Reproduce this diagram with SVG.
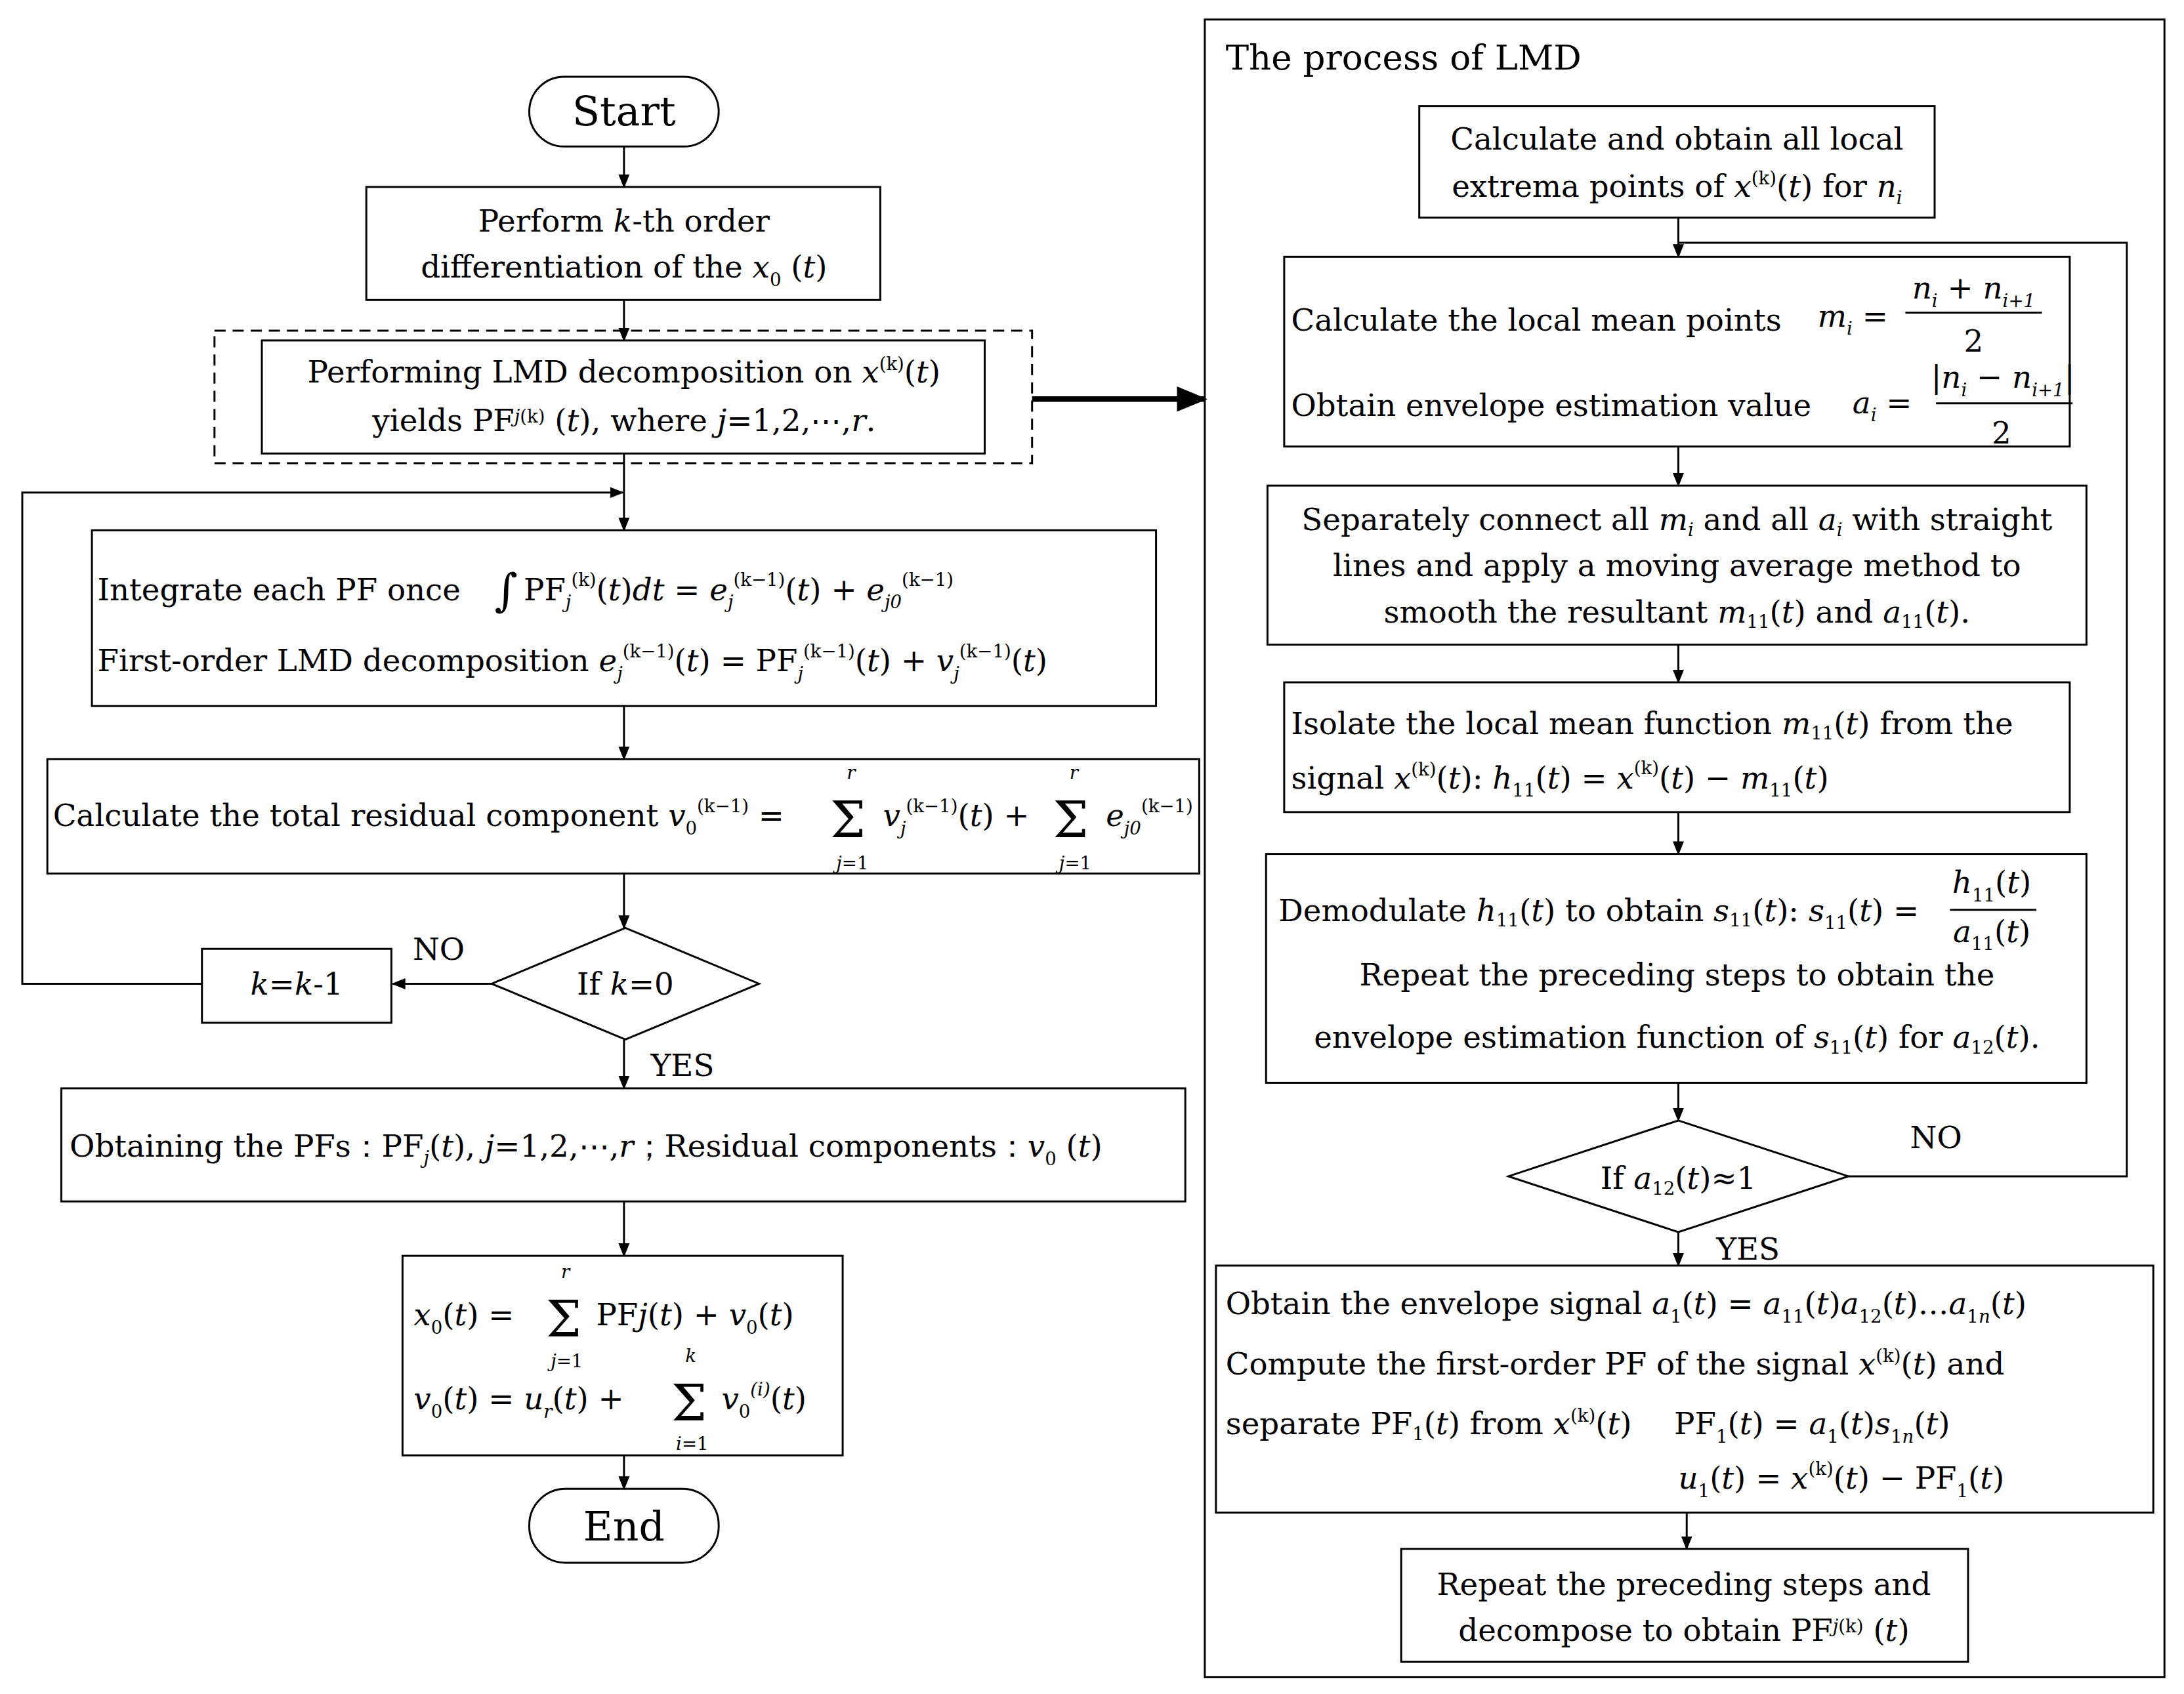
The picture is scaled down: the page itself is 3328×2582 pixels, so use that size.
<svg xmlns="http://www.w3.org/2000/svg" width="3328" height="2582" viewBox="0 0 3328 2582">
<defs>
<marker id="ah" markerWidth="10" markerHeight="10" refX="9" refY="5" orient="auto" markerUnits="userSpaceOnUse"><path d="M0,1 L10,5 L0,9 z" fill="#000"/></marker>
<marker id="ahb" markerWidth="22" markerHeight="18" refX="20" refY="9" orient="auto" markerUnits="userSpaceOnUse"><path d="M0,0 L22,9 L0,18 z" fill="#000"/></marker>
<style>
text{font-family:"DejaVu Serif","Liberation Serif",serif;font-size:22px;fill:#000}
.c{text-anchor:middle}
.i{font-style:italic}
.s{font-size:13px}
.sg{font-size:36px}
.b{fill:#fff;stroke:#000;stroke-width:1.4}
.l{fill:none;stroke:#000;stroke-width:1.4}
</style>
</defs>
<rect width="3328" height="2582" fill="#fff"/>
<g transform="scale(2.1224,2.1268)">
<g id="connectors">
<path class="l" d="M448,105 V134" marker-end="url(#ah)"/>
<path class="l" d="M448,215 V244" marker-end="url(#ah)"/>
<path class="l" d="M448,325 V380" marker-end="url(#ah)"/>
<path class="l" d="M145,705 H16 V353 H447" marker-end="url(#ah)"/>
<path class="l" d="M448,506 V544" marker-end="url(#ah)"/>
<path class="l" d="M448,626 V665" marker-end="url(#ah)"/>
<path class="l" d="M353,705 H282" marker-end="url(#ah)"/>
<path class="l" d="M448,745 V780" marker-end="url(#ah)"/>
<path class="l" d="M448,861 V900" marker-end="url(#ah)"/>
<path class="l" d="M448,1043 V1067" marker-end="url(#ah)"/>
<path fill="none" stroke="#000" stroke-width="4" d="M741,286 H865" marker-end="url(#ahb)"/>
<path class="l" d="M1205,156 V184" marker-end="url(#ah)"/>
<path class="l" d="M1327,843 H1527 V174 H1205"/>
<path class="l" d="M1205,320 V348" marker-end="url(#ah)"/>
<path class="l" d="M1205,462 V489" marker-end="url(#ah)"/>
<path class="l" d="M1205,582 V612" marker-end="url(#ah)"/>
<path class="l" d="M1205,776 V803" marker-end="url(#ah)"/>
<path class="l" d="M1205,883 V907" marker-end="url(#ah)"/>
<path class="l" d="M1211,1084 V1110" marker-end="url(#ah)"/>
<text x="315" y="688" class="c">NO</text>
<text x="490" y="771" class="c">YES</text>
<text x="1390" y="823" class="c">NO</text>
<text x="1255" y="903" class="c">YES</text>
</g>
<g id="start"><rect class="b" x="380" y="55" width="136" height="50" rx="25"/><text x="448" y="90" class="c" style="font-size:29px">Start</text></g>
<g id="diff"><rect class="b" x="263" y="134" width="369" height="81"/>
<text x="448" y="166" class="c">Perform <tspan class="i">k</tspan>-th order</text>
<text x="448" y="199" class="c">differentiation of the <tspan class="i">x</tspan><tspan class="s" dy="6">0</tspan><tspan dy="-6"> (</tspan><tspan class="i">t</tspan>)</text></g>
<g id="lmd"><rect x="154" y="237" width="587" height="95" fill="none" stroke="#000" stroke-width="1.4" stroke-dasharray="8,5"/>
<rect class="b" x="188" y="244" width="519" height="81"/>
<text x="448" y="274" class="c">Performing LMD decomposition on <tspan class="i">x</tspan><tspan class="s" dy="-9">(k)</tspan><tspan dy="9">(</tspan><tspan class="i">t</tspan>)</text>
<text x="448" y="309" class="c">yields PF<tspan class="s" dy="-6"><tspan class="i">j</tspan>(k)</tspan><tspan dy="6"> (</tspan><tspan class="i">t</tspan>), where <tspan class="i">j</tspan>=1,2,⋯,<tspan class="i">r</tspan>.</text></g>
<g id="integrate"><rect class="b" x="66" y="380" width="764" height="126"/>
<text x="70" y="430">Integrate each PF once</text>
<text x="355" y="434" style="font-size:32px">∫</text>
<text x="376" y="430">PF<tspan class="s i" dy="6">j</tspan><tspan class="s" dy="-16">(k)</tspan><tspan dy="10">(</tspan><tspan class="i">t</tspan>)<tspan class="i">dt</tspan> = <tspan class="i">e</tspan><tspan class="s i" dy="6">j</tspan><tspan class="s" dy="-16">(k−1)</tspan><tspan dy="10">(</tspan><tspan class="i">t</tspan>) + <tspan class="i">e</tspan><tspan class="s i" dy="6">j0</tspan><tspan class="s" dy="-16">(k−1)</tspan></text>
<text x="70" y="481">First-order LMD decomposition <tspan class="i">e</tspan><tspan class="s i" dy="6">j</tspan><tspan class="s" dy="-16">(k−1)</tspan><tspan dy="10">(</tspan><tspan class="i">t</tspan>) = PF<tspan class="s i" dy="6">j</tspan><tspan class="s" dy="-16">(k−1)</tspan><tspan dy="10">(</tspan><tspan class="i">t</tspan>) + <tspan class="i">v</tspan><tspan class="s i" dy="6">j</tspan><tspan class="s" dy="-16">(k−1)</tspan><tspan dy="10">(</tspan><tspan class="i">t</tspan>)</text></g>
<g id="total"><rect class="b" x="34" y="544" width="827" height="82"/>
<text x="38" y="592">Calculate the total residual component <tspan class="i">v</tspan><tspan class="s" dy="6">0</tspan><tspan class="s" dy="-16">(k−1)</tspan><tspan dy="10"> =</tspan></text>
<text x="596" y="600" class="sg">Σ</text><text x="611" y="558" class="s i c">r</text><text x="612" y="623" class="s c"><tspan class="i">j</tspan>=1</text>
<text x="634" y="592"><tspan class="i">v</tspan><tspan class="s i" dy="6">j</tspan><tspan class="s" dy="-16">(k−1)</tspan><tspan dy="10">(</tspan><tspan class="i">t</tspan>) +</text>
<text x="756" y="600" class="sg">Σ</text><text x="771" y="558" class="s i c">r</text><text x="772" y="623" class="s c"><tspan class="i">j</tspan>=1</text>
<text x="794" y="592"><tspan class="i">e</tspan><tspan class="s i" dy="6">j0</tspan><tspan class="s" dy="-16">(k−1)</tspan></text></g>
<g id="ifk"><path class="b" d="M449,665 L545,705 L449,745 L353,705 z"/><text x="449" y="713" class="c">If <tspan class="i">k</tspan>=0</text></g>
<g id="kdec"><rect class="b" x="145" y="680" width="136" height="53"/><text x="213" y="713" class="c"><tspan class="i">k</tspan>=<tspan class="i">k</tspan>-1</text></g>
<g id="obtain"><rect class="b" x="44" y="780" width="807" height="81"/>
<text x="50" y="829">Obtaining the PFs：PF<tspan class="s i" dy="5">j</tspan><tspan dy="-5">(</tspan><tspan class="i">t</tspan>), <tspan class="i">j</tspan>=1,2,⋯,<tspan class="i">r</tspan>；Residual components：<tspan class="i">v</tspan><tspan class="s" dy="6">0</tspan><tspan dy="-6"> (</tspan><tspan class="i">t</tspan>)</text></g>
<g id="formula"><rect class="b" x="289" y="900" width="316" height="143"/>
<text x="297" y="950"><tspan class="i">x</tspan><tspan class="s" dy="6">0</tspan><tspan dy="-6">(</tspan><tspan class="i">t</tspan>) =</text>
<text x="392" y="958" class="sg">Σ</text><text x="406" y="916" class="s i c">r</text><text x="407" y="980" class="s c"><tspan class="i">j</tspan>=1</text>
<text x="428" y="950">PF<tspan class="i">j</tspan>(<tspan class="i">t</tspan>) + <tspan class="i">v</tspan><tspan class="s" dy="6">0</tspan><tspan dy="-6">(</tspan><tspan class="i">t</tspan>)</text>
<text x="297" y="1010"><tspan class="i">v</tspan><tspan class="s" dy="6">0</tspan><tspan dy="-6">(</tspan><tspan class="i">t</tspan>) = <tspan class="i">u</tspan><tspan class="s i" dy="6">r</tspan><tspan dy="-6">(</tspan><tspan class="i">t</tspan>) +</text>
<text x="482" y="1018" class="sg">Σ</text><text x="496" y="976" class="s i c">k</text><text x="497" y="1039" class="s c"><tspan class="i">i</tspan>=1</text>
<text x="518" y="1010"><tspan class="i">v</tspan><tspan class="s" dy="6">0</tspan><tspan class="s i" dy="-16">(i)</tspan><tspan dy="10">(</tspan><tspan class="i">t</tspan>)</text></g>
<g id="end"><rect class="b" x="380" y="1067" width="136" height="53" rx="26"/><text x="448" y="1104" class="c" style="font-size:29px">End</text></g>
<g id="panel"><rect x="865" y="14" width="689" height="1188" fill="none" stroke="#000" stroke-width="1.4"/><text x="880" y="50" style="font-size:25px">The process of LMD</text></g>
<g id="r1"><rect class="b" x="1019" y="76" width="370" height="80"/>
<text x="1204" y="107" class="c">Calculate  and obtain all local</text>
<text x="1204" y="141" class="c">extrema points of <tspan class="i">x</tspan><tspan class="s" dy="-9">(k)</tspan><tspan dy="9">(</tspan><tspan class="i">t</tspan>) for <tspan class="i">n</tspan><tspan class="s i" dy="5">i</tspan></text></g>
<g id="r2"><rect class="b" x="922" y="184" width="564" height="136"/>
<text x="927" y="237">Calculate the local mean points</text>
<text x="1305" y="234"><tspan class="i">m</tspan><tspan class="s i" dy="6">i</tspan><tspan dy="-6"> =</tspan></text>
<text x="1417" y="214" class="c"><tspan class="i">n</tspan><tspan class="s i" dy="6">i</tspan><tspan dy="-6"> + </tspan><tspan class="i">n</tspan><tspan class="s i" dy="6">i+1</tspan></text>
<path class="l" d="M1368,224 H1466"/><text x="1417" y="252" class="c">2</text>
<text x="927" y="298">Obtain envelope estimation value</text>
<text x="1330" y="296"><tspan class="i">a</tspan><tspan class="s i" dy="6">i</tspan><tspan dy="-6"> =</tspan></text>
<text x="1438" y="278" class="c">|<tspan class="i">n</tspan><tspan class="s i" dy="6">i</tspan><tspan dy="-6"> − </tspan><tspan class="i">n</tspan><tspan class="s i" dy="6">i+1</tspan><tspan dy="-6">|</tspan></text>
<path class="l" d="M1390,289 H1488"/><text x="1437" y="318" class="c">2</text></g>
<g id="r3"><rect class="b" x="910" y="348" width="588" height="114"/>
<text x="1204" y="380" class="c">Separately connect all <tspan class="i">m</tspan><tspan class="s i" dy="4">i</tspan><tspan dy="-4"> and all </tspan><tspan class="i">a</tspan><tspan class="s i" dy="4">i</tspan><tspan dy="-4"> with straight</tspan></text>
<text x="1204" y="413" class="c">lines and apply a moving average method to</text>
<text x="1204" y="446" class="c">smooth the resultant <tspan class="i">m</tspan><tspan class="s" dy="4">11</tspan><tspan dy="-4">(</tspan><tspan class="i">t</tspan>) and  <tspan class="i">a</tspan><tspan class="s" dy="4">11</tspan><tspan dy="-4">(</tspan><tspan class="i">t</tspan>).</text></g>
<g id="r4"><rect class="b" x="922" y="489" width="564" height="93"/>
<text x="927" y="526">Isolate the local mean function <tspan class="i">m</tspan><tspan class="s" dy="4">11</tspan><tspan dy="-4">(</tspan><tspan class="i">t</tspan>) from the</text>
<text x="927" y="565">signal <tspan class="i">x</tspan><tspan class="s" dy="-9">(k)</tspan><tspan dy="9">(</tspan><tspan class="i">t</tspan>): <tspan class="i">h</tspan><tspan class="s" dy="6">11</tspan><tspan dy="-6">(</tspan><tspan class="i">t</tspan>) = <tspan class="i">x</tspan><tspan class="s" dy="-10">(k)</tspan><tspan dy="10">(</tspan><tspan class="i">t</tspan>) − <tspan class="i">m</tspan><tspan class="s" dy="6">11</tspan><tspan dy="-6">(</tspan><tspan class="i">t</tspan>)</text></g>
<g id="r5"><rect class="b" x="909" y="612" width="589" height="164"/>
<text x="918" y="660">Demodulate <tspan class="i">h</tspan><tspan class="s" dy="4">11</tspan><tspan dy="-4">(</tspan><tspan class="i">t</tspan>) to obtain <tspan class="i">s</tspan><tspan class="s" dy="4">11</tspan><tspan dy="-4">(</tspan><tspan class="i">t</tspan>): <tspan class="i">s</tspan><tspan class="s" dy="6">11</tspan><tspan dy="-6">(</tspan><tspan class="i">t</tspan>) =</text>
<text x="1430" y="640" class="c"><tspan class="i">h</tspan><tspan class="s" dy="6">11</tspan><tspan dy="-6">(</tspan><tspan class="i">t</tspan>)</text>
<path class="l" d="M1400,652 H1462"/>
<text x="1430" y="675" class="c"><tspan class="i">a</tspan><tspan class="s" dy="6">11</tspan><tspan dy="-6">(</tspan><tspan class="i">t</tspan>)</text>
<text x="1204" y="706" class="c">Repeat the preceding steps to obtain the</text>
<text x="1204" y="751" class="c">envelope estimation function of <tspan class="i">s</tspan><tspan class="s" dy="4">11</tspan><tspan dy="-4">(</tspan><tspan class="i">t</tspan>) for <tspan class="i">a</tspan><tspan class="s" dy="4">12</tspan><tspan dy="-4">(</tspan><tspan class="i">t</tspan>).</text></g>
<g id="ifa"><path class="b" d="M1205,803 L1327,843 L1205,883 L1083,843 z"/><text x="1205" y="852" class="c">If <tspan class="i">a</tspan><tspan class="s" dy="4">12</tspan><tspan dy="-4">(</tspan><tspan class="i">t</tspan>)≈1</text></g>
<g id="r6"><rect class="b" x="873" y="907" width="673" height="177"/>
<text x="880" y="942">Obtain the envelope signal <tspan class="i">a</tspan><tspan class="s" dy="6">1</tspan><tspan dy="-6">(</tspan><tspan class="i">t</tspan>) = <tspan class="i">a</tspan><tspan class="s" dy="6">11</tspan><tspan dy="-6">(</tspan><tspan class="i">t</tspan>)<tspan class="i">a</tspan><tspan class="s" dy="6">12</tspan><tspan dy="-6">(</tspan><tspan class="i">t</tspan>)…<tspan class="i">a</tspan><tspan class="s" dy="6">1<tspan class="i">n</tspan></tspan><tspan dy="-6">(</tspan><tspan class="i">t</tspan>)</text>
<text x="880" y="985">Compute the first-order PF of the signal <tspan class="i">x</tspan><tspan class="s" dy="-9">(k)</tspan><tspan dy="9">(</tspan><tspan class="i">t</tspan>) and</text>
<text x="880" y="1028">separate PF<tspan class="s" dy="4">1</tspan><tspan dy="-4">(</tspan><tspan class="i">t</tspan>) from <tspan class="i">x</tspan><tspan class="s" dy="-9">(k)</tspan><tspan dy="9">(</tspan><tspan class="i">t</tspan>)</text>
<text x="1202" y="1028">PF<tspan class="s" dy="6">1</tspan><tspan dy="-6">(</tspan><tspan class="i">t</tspan>) = <tspan class="i">a</tspan><tspan class="s" dy="6">1</tspan><tspan dy="-6">(</tspan><tspan class="i">t</tspan>)<tspan class="i">s</tspan><tspan class="s" dy="6">1<tspan class="i">n</tspan></tspan><tspan dy="-6">(</tspan><tspan class="i">t</tspan>)</text>
<text x="1205" y="1067"><tspan class="i">u</tspan><tspan class="s" dy="6">1</tspan><tspan dy="-6">(</tspan><tspan class="i">t</tspan>) = <tspan class="i">x</tspan><tspan class="s" dy="-10">(k)</tspan><tspan dy="10">(</tspan><tspan class="i">t</tspan>) − PF<tspan class="s" dy="6">1</tspan><tspan dy="-6">(</tspan><tspan class="i">t</tspan>)</text></g>
<g id="r7"><rect class="b" x="1006" y="1110" width="407" height="81"/>
<text x="1209" y="1143" class="c">Repeat the preceding steps and</text>
<text x="1209" y="1176" class="c">decompose to obtain PF<tspan class="s" dy="-6"><tspan class="i">j</tspan>(k)</tspan><tspan dy="6"> (</tspan><tspan class="i">t</tspan>)</text></g>
</g>
</svg>
